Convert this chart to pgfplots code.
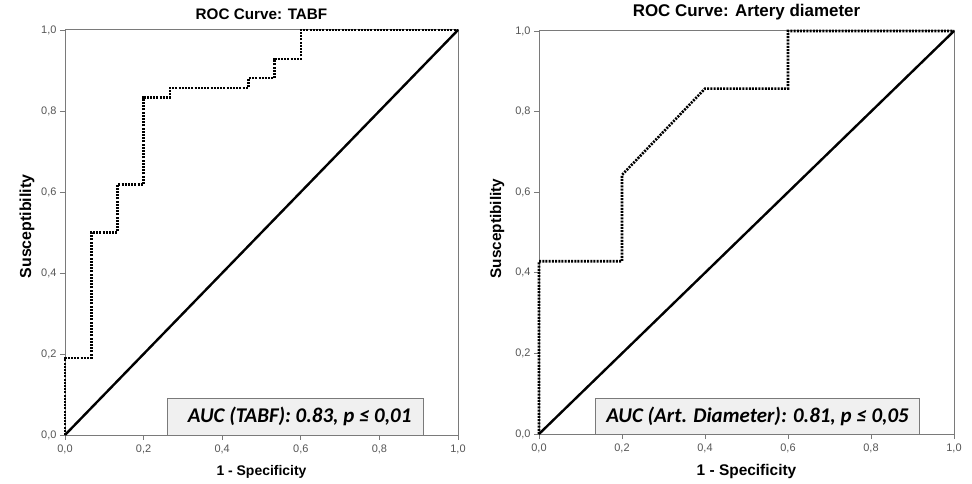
\documentclass[border=0pt]{standalone}
\usepackage{pgfplots}
\pgfplotsset{compat=1.18}
\usepackage{fontspec}
\setmainfont{Liberation Sans}
\newfontfamily\calib{Carlito}
\definecolor{frame}{HTML}{7A7A7A}
\definecolor{tickc}{HTML}{555555}
\definecolor{boxfill}{HTML}{F0F0F0}
\newcommand\fs[1]{\fontsize{#1}{#1}\selectfont}
\pgfplotsset{
  rocstyle/.style={
    scale only axis,
    xmin=0, xmax=1, ymin=0, ymax=1,
    axis line style={frame, line width=1pt},
    xtick={0,0.2,0.4,0.6,0.8,1},
    ytick={0,0.2,0.4,0.6,0.8,1},
    xticklabels={{0,0},{0,2},{0,4},{0,6},{0,8},{1,0}},
    yticklabels={{0,0},{0,2},{0,4},{0,6},{0,8},{1,0}},
    xtick pos=bottom, ytick pos=left,
    tick align=outside,
    major tick length=5bp,
    tick style={frame, line width=0.8pt},
    ticklabel style={font=\fs{11}, text=tickc},
    xticklabel style={yshift=-1bp},
    title style={at={(axis description cs:0.5,1)}, anchor=south, yshift=1bp},
    clip=false,
  },
  curve/.style={black, line width=2.6bp, dash pattern=on 2bp off 1.2bp},
  diag/.style={black, line width=2.4bp},
}
\begin{document}
\begin{tikzpicture}
\begin{axis}[rocstyle,
  width=393bp, height=405bp,
  at={(65bp,49bp)}, anchor=south west,
  title={\bfseries\fs{15.3}ROC Curve: TABF},
  xlabel={\bfseries\fs{14}1 - Specificity}, ylabel={\bfseries\fs{16}Susceptibility},
  xlabel style={at={(axis description cs:0.5,-0.091)}, anchor=center},
  ylabel style={at={(axis description cs:-0.097,0.515)}, anchor=center},
]
\draw[frame, line width=0.9pt, fill=boxfill] (axis cs:0.2595,0) rectangle (axis cs:0.911,0.0914);
\node[font=\calib\bfseries\itshape\fs{21}] at (axis cs:0.597,0.0457) {AUC (TABF): 0.83, p ≤ 0,01};
\addplot[diag] coordinates {(0,0) (1,1)};
\addplot[curve] coordinates {(0,0) (0,0.1905) (0.0667,0.1905) (0.0667,0.5) (0.1333,0.5) (0.1333,0.619) (0.2,0.619) (0.2,0.8333) (0.2667,0.8333) (0.2667,0.8571) (0.4667,0.8571) (0.4667,0.881) (0.5333,0.881) (0.5333,0.9286) (0.6,0.9286) (0.6,1) (1,1)};
\end{axis}
\begin{axis}[rocstyle,
  width=415bp, height=403bp,
  at={(539bp,50bp)}, anchor=south west,
  title={\bfseries\fs{17}ROC Curve: Artery diameter},
  xlabel={\bfseries\fs{15.5}1 - Specificity}, ylabel={\bfseries\fs{15.4}Susceptibility},
  xlabel style={at={(axis description cs:0.5,-0.094)}, anchor=center},
  ylabel style={at={(axis description cs:-0.101,0.51)}, anchor=center},
]
\draw[frame, line width=0.9pt, fill=boxfill] (axis cs:0.137,0) rectangle (axis cs:0.916,0.0893);
\node[font=\calib\bfseries\itshape\fs{21}] at (axis cs:0.5265,0.0447) {AUC (Art. Diameter): 0.81, p ≤ 0,05};
\addplot[diag] coordinates {(0,0) (1,1)};
\addplot[curve] coordinates {(0,0) (0,0.4286) (0.2,0.4286) (0.2,0.6429) (0.4,0.8571) (0.6,0.8571) (0.6,1) (1,1)};
\end{axis}
\pgfresetboundingbox
\path (0,0) rectangle (972bp,484bp);
\end{tikzpicture}
\end{document}
